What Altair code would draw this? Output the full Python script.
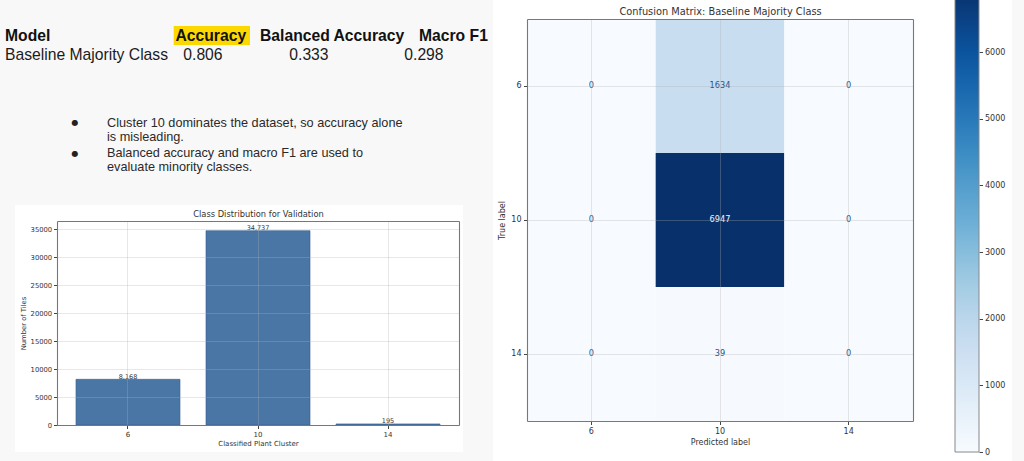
import altair as alt
import numpy as np
import pandas as pd

# ------------------------------------------------------------------ data
clusters = ["6", "10", "14"]
tile_counts = [8168, 34737, 195]

cm_labels = ["6", "10", "14"]
cm_values = [
    [0, 1634, 0],
    [0, 6947, 0],
    [0, 39, 0],
]

metric_header = ["Model", "Accuracy", "Balanced Accuracy", "Macro F1"]
metric_row = ["Baseline Majority Class", "0.806", "0.333", "0.298"]

bullet_lines = [
    ["Cluster 10 dominates the dataset, so accuracy alone", "is misleading."],
    ["Balanced accuracy and macro F1 are used to", "evaluate minority classes."],
]

bar_ticks = [0, 5000, 10000, 15000, 20000, 25000, 30000, 35000]
cbar_ticks = [0, 1000, 2000, 3000, 4000, 5000, 6000]

blues = ["#f7fbff", "#deebf7", "#c6dbef", "#9ecae1", "#6baed6",
         "#4292c6", "#2171b5", "#08519c", "#08306b"]

# ------------------------------------------------------------------ tables
bar_df = pd.DataFrame({"cluster": clusters, "count": tile_counts})
cm_df = pd.DataFrame(
    [{"true": t, "pred": p, "value": cm_values[i][j]}
     for i, t in enumerate(cm_labels) for j, p in enumerate(cm_labels)]
)
cbar_df = pd.DataFrame({"v": cbar_ticks})
vmax = float(np.max(cm_values))
vmin = float(np.min(cm_values))
color_stops = list(np.linspace(vmin, vmax, len(blues)))
thresh = (vmax + vmin) / 2.0

# ------------------------------------------------------------------ layout
W, H = 1024, 461
CH = "DejaVu Sans"
SL = "Liberation Sans"
dummy = pd.DataFrame({"k": [0]})


def box(x1, x2, y1, y2, color):
    return alt.Chart(dummy).mark_rect(color=color).encode(
        x=alt.value(x1), x2=alt.value(x2), y=alt.value(y1), y2=alt.value(y2)
    )


def label(text, x, y, size, bold=False, color="#1b1b1b", font=SL,
          align="left", baseline="alphabetic"):
    return alt.Chart(pd.DataFrame({"t": [text]})).mark_text(
        align=align, baseline=baseline, font=font, fontSize=size,
        fontWeight="bold" if bold else "normal", color=color,
    ).encode(x=alt.value(x), y=alt.value(y), text="t:N")


layers = [
    box(15, 463, 205, 452, "white"),
    box(493, 1012, 0, 461, "white"),
    box(173.7, 250, 26, 45, "#fdd800"),
]

header_x = [5, 175.5, 260, 419]
row_x = [5, 183.3, 289.3, 404.3]
for txt, x in zip(metric_header, header_x):
    layers.append(label(txt, x, 40.5, 15.7, bold=True, color="#111111"))
for txt, x in zip(metric_row, row_x):
    layers.append(label(txt, x, 59.5, 15.7, color="#1b1b1b"))

bullet_y = [122.7, 153.5]
line_y = [[126.5, 140.5], [156.5, 170.8]]
for b, lines in enumerate(bullet_lines):
    layers.append(label("●", 75, bullet_y[b], 8, font=CH, align="center",
                        baseline="middle", color="#222222"))
    for k, ln in enumerate(lines):
        layers.append(label(ln, 107, line_y[b][k], 12.7, color="#2a2a2a"))

# common axis style
ax_style = dict(labelFont=CH, titleFont=CH, labelColor="#333333",
                titleColor="#333333", tickColor="#444444",
                domainColor="#777777", domainWidth=1.1,
                titleFontWeight="normal", zindex=1)

# ------------------------------------------------------------------ bar panel
bar_x_scale = alt.Scale(domain=clusters, range=[57, 459],
                        paddingInner=0.2, paddingOuter=0.146)
bar_y_scale = alt.Scale(domain=[0, 36474], range=[425, 221],
                        nice=False, zero=True)

bars = alt.Chart(bar_df).mark_bar(
    color="#4a76a6", stroke="#35608e", strokeWidth=0.6
).encode(
    x=alt.X("cluster:N", sort=clusters, scale=bar_x_scale,
            axis=alt.Axis(orient="bottom", offset=-36,
                          title="Classified Plant Cluster", labelAngle=0,
                          labelFontSize=7, titleFontSize=7, tickSize=3.5,
                          labelPadding=1.9, titlePadding=2.5, grid=False,
                          **ax_style)),
    y=alt.Y("count:Q", scale=bar_y_scale,
            axis=alt.Axis(orient="left", offset=-57, values=bar_ticks,
                          format="d", title="Number of Tiles",
                          labelFontSize=6.8, titleFontSize=6.8, tickSize=3.5,
                          labelPadding=1.8, titlePadding=3.5, grid=True,
                          gridColor="#b0b0b0", gridOpacity=0.3,
                          **ax_style)),
)

bar_text = alt.Chart(bar_df).mark_text(
    baseline="alphabetic", dy=-0.5, font=CH, fontSize=6.5, color="#333333"
).encode(
    x=alt.X("cluster:N", sort=clusters,
            axis=alt.Axis(orient="top", offset=-221, labels=False,
                          ticks=False, grid=True, gridColor="#b0b0b0",
                          gridOpacity=0.3,
                          title="Class Distribution for Validation",
                          titleFontSize=8.3, titlePadding=2.5,
                          **ax_style)),
    y=alt.Y("count:Q",
            axis=alt.Axis(orient="right", offset=-565, labels=False,
                          ticks=False, grid=False, title=None, **ax_style)),
    text=alt.Text("count:Q", format=","),
)

bar_panel = alt.layer(bars, bar_text)

# ------------------------------------------------------------------ heatmap panel
hx_scale = alt.Scale(domain=cm_labels, range=[527, 913],
                     paddingInner=0, paddingOuter=0)
hy_scale = alt.Scale(domain=cm_labels, range=[19, 421],
                     paddingInner=0, paddingOuter=0)

cells = alt.Chart(cm_df).mark_rect().encode(
    x=alt.X("pred:N", sort=cm_labels, scale=hx_scale,
            axis=alt.Axis(orient="bottom", offset=-40,
                          title="Predicted label", labelAngle=0,
                          labelFontSize=8, titleFontSize=8, tickSize=3.5,
                          labelPadding=2.8, titlePadding=3, grid=False,
                          **ax_style)),
    y=alt.Y("true:N", sort=cm_labels, scale=hy_scale,
            axis=alt.Axis(orient="left", offset=-527, title="True label",
                          labelFontSize=8, titleFontSize=8, tickSize=3.5,
                          labelPadding=2.5, titlePadding=4, grid=True,
                          gridColor="#b0b0b0", gridOpacity=0.3,
                          **ax_style)),
    color=alt.Color("value:Q",
                    scale=alt.Scale(domain=color_stops, range=blues),
                    legend=alt.Legend(orient="none", legendX=955, legendY=-11,
                                      direction="vertical", title=None,
                                      gradientLength=463,
                                      gradientThickness=24,
                                      gradientStrokeColor="#888888",
                                      gradientStrokeWidth=1,
                                      values=cbar_ticks, labelExpr="''",
                                      labelOpacity=0, labelFontSize=1,
                                      padding=0, zindex=1)),
)

cell_text = alt.Chart(cm_df).mark_text(
    font=CH, fontSize=8.2, baseline="middle"
).encode(
    x=alt.X("pred:N", sort=cm_labels,
            axis=alt.Axis(orient="top", offset=-19, labels=False,
                          ticks=False, grid=True, gridColor="#b0b0b0",
                          gridOpacity=0.3,
                          title="Confusion Matrix: Baseline Majority Class",
                          titleFontSize=9.8, titlePadding=2.4,
                          **ax_style)),
    y=alt.Y("true:N", sort=cm_labels,
            axis=alt.Axis(orient="right", offset=-111, labels=False,
                          ticks=False, grid=False, title=None, **ax_style)),
    text=alt.Text("value:Q", format="d"),
    color=alt.condition(alt.datum.value > thresh,
                        alt.value("#eef4fb"), alt.value("#24548a")),
)

heat_panel = alt.layer(cells, cell_text)

# colorbar tick marks and labels (same value range as the colour scale)
cbar_axis = alt.Chart(cbar_df).mark_point(opacity=0).encode(
    y=alt.Y("v:Q", scale=alt.Scale(domain=[vmin, vmax], range=[452, -11],
                                   nice=False, zero=True),
            axis=alt.Axis(orient="right", offset=-45, values=cbar_ticks,
                          format="d", title=None, grid=False, domain=False,
                          labelFontSize=8, tickSize=3.5, labelPadding=2,
                          **ax_style)),
)

layers += [bar_panel, heat_panel, cbar_axis]

chart = alt.layer(*layers).resolve_scale(
    x="independent", y="independent"
).properties(
    width=W, height=H, padding=0,
    autosize=alt.AutoSizeParams(type="none"),
    background="#f8f8f8",
).configure_view(stroke=None)

chart.save("out.html", embed_options={"renderer": "svg", "actions": False})
